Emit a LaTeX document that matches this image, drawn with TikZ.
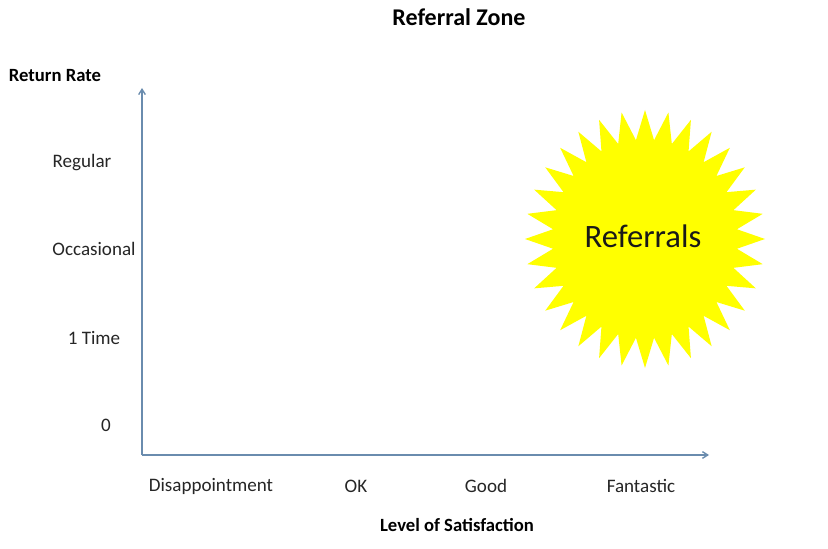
\documentclass[tikz,border=0pt]{standalone}
\usepackage{fontspec}
\setmainfont{Carlito}
\usetikzlibrary{arrows.meta}
\definecolor{axiscol}{HTML}{6A8CAE}
\definecolor{sunyellow}{HTML}{FFFF00}
\tikzset{
  lbl/.style={font=\fontsize{14.3pt}{17pt}\selectfont, text=black!85, inner sep=0pt},
  blbl/.style={font=\fontsize{14pt}{17pt}\selectfont\bfseries, text=black, inner sep=0pt},
  axis/.style={draw=axiscol, line width=1pt, -{Straight Barb[length=4pt,width=5pt]}},
}
\begin{document}
\begin{tikzpicture}[x=0.75pt,y=-0.75pt]
\useasboundingbox[fill=white] (0,0) rectangle (828,549);
% title
\node[blbl, font=\fontsize{18pt}{21pt}\selectfont\bfseries] (title) at (459,17) {Referral Zone};
% axes
\coordinate (origin) at (142,455);
\coordinate (ytop) at (142,88);
\coordinate (xend) at (709,455);
\draw[axis] (origin) -- (ytop);
\draw[axis] (origin) -- (xend);
% y labels
\node[blbl] (yt) at (55,76) {Return Rate};
\node[lbl] (y3) at (82,163) {Regular};
\node[lbl] (y2) at (94,249) {Occasional};
\node[lbl] (y1) at (94,338) {1 Time};
\node[lbl] (y0) at (106,425) {0};
% x labels
\node[lbl] (x0) at (211,486) {Disappointment};
\node[lbl] (x1) at (356,486) {OK};
\node[lbl] (x2) at (486,486) {Good};
\node[lbl] (x3) at (641,486) {Fantastic};
\node[blbl] (xt) at (457,525) {Level of Satisfaction};
% starburst
\fill[sunyellow] (765,239)
  \foreach \i in {1,...,63}{
    -- ({645+120*(1-0.23*mod(\i,2))*cos(\i*5.625)},{239-129*(1-0.23*mod(\i,2))*sin(\i*5.625)})
  } -- cycle;
\node[inner sep=0pt, font=\fontsize{24.5pt}{28pt}\selectfont, text=black!90] (ref) at (643,236) {Referrals};
\end{tikzpicture}
\end{document}
